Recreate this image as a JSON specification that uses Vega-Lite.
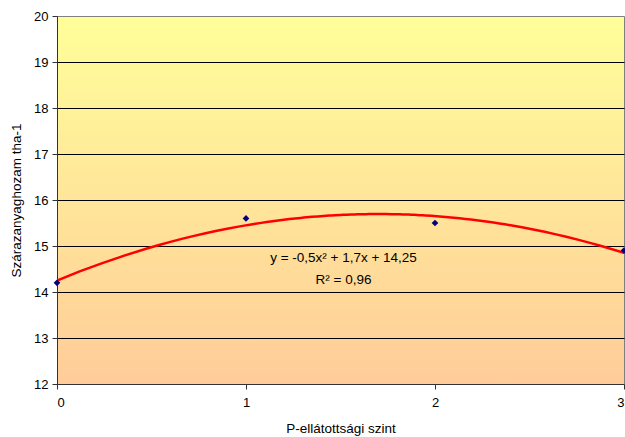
{
  "$schema": "https://vega.github.io/schema/vega-lite/v6.json",
  "width": 567,
  "height": 368,
  "autosize": {"type": "none"},
  "padding": {"left": 57, "top": 16, "right": 1, "bottom": 53},
  "background": "white",
  "config": {
    "font": "Liberation Sans",
    "view": {
      "stroke": "#808080",
      "strokeWidth": 1,
      "fill": {
        "gradient": "linear",
        "x1": 0, "y1": 0, "x2": 0, "y2": 1,
        "stops": [
          {"offset": 0, "color": "#FFFF99"},
          {"offset": 1, "color": "#FFCC99"}
        ]
      }
    },
    "axis": {
      "labelFont": "Liberation Sans",
      "titleFont": "Liberation Sans",
      "labelFontSize": 13,
      "titleFontSize": 13.5,
      "labelColor": "black",
      "titleColor": "black",
      "titleFontWeight": "normal",
      "domainColor": "#333333",
      "tickColor": "#333333",
      "tickSize": 5
    }
  },
  "data": {
    "values": [
      {"szint": 0, "hozam": 14.2},
      {"szint": 1, "hozam": 15.6},
      {"szint": 2, "hozam": 15.5},
      {"szint": 3, "hozam": 14.9}
    ]
  },
  "layer": [
    {
      "transform": [
        {"regression": "hozam", "on": "szint", "method": "poly", "order": 2, "extent": [0, 3]}
      ],
      "mark": {"type": "line", "color": "#FF0000", "strokeWidth": 2.5, "clip": true},
      "encoding": {
        "x": {
          "field": "szint", "type": "quantitative",
          "scale": {"domain": [0, 3], "nice": false, "zero": false},
          "axis": {
            "values": [0, 1, 2, 3], "grid": false, "title": "P-ellátottsági szint",
            "labelPadding": 7, "titlePadding": 12, "format": "d"
          }
        },
        "y": {
          "field": "hozam", "type": "quantitative",
          "scale": {"domain": [12, 20], "nice": false, "zero": false},
          "axis": {
            "values": [12, 13, 14, 15, 16, 17, 18, 19, 20],
            "grid": true,
            "gridColor": {"condition": {"test": "datum.value === 20 || datum.value === 12", "value": "transparent"}, "value": "#000000"},
            "gridWidth": 1,
            "title": "Szárazanyaghozam tha-1",
            "labelPadding": 4, "titlePadding": 10
          }
        }
      }
    },
    {
      "mark": {"type": "point", "shape": "diamond", "filled": true, "color": "#000080", "size": 45, "opacity": 1},
      "encoding": {
        "x": {"field": "szint", "type": "quantitative"},
        "y": {"field": "hozam", "type": "quantitative"}
      }
    },
    {
      "data": {"values": [{"felirat": "trend"}]},
      "mark": {
        "type": "text", "fontSize": 13.5, "font": "Liberation Sans", "fontWeight": "normal", "color": "black",
        "align": "center", "baseline": "middle", "lineHeight": 22,
        "text": ["y = -0,5x² + 1,7x + 14,25", "R² = 0,96"]
      },
      "encoding": {
        "x": {"datum": 1.516},
        "y": {"datum": 14.74}
      }
    }
  ]
}
